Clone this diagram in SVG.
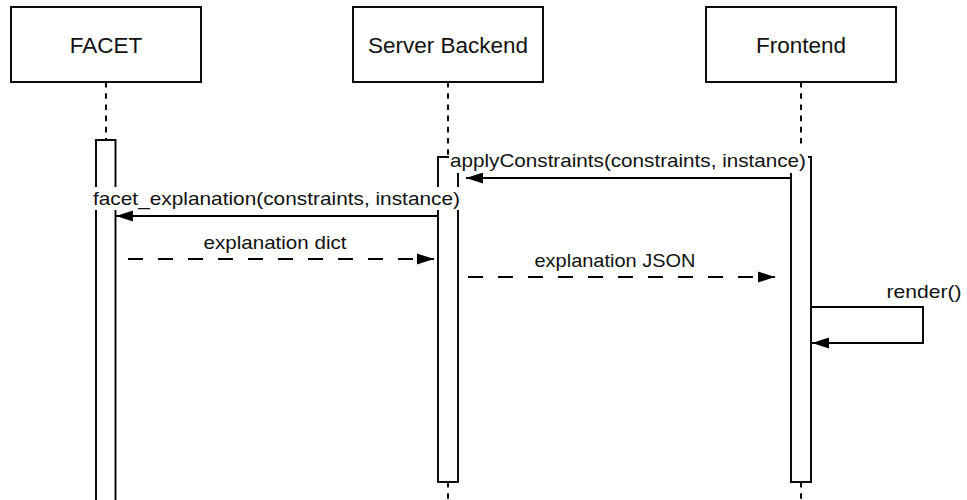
<svg xmlns="http://www.w3.org/2000/svg" width="967" height="500" viewBox="0 0 967 500">
<style>
.box{fill:#fff;stroke:#000;stroke-width:1.9}
.bar{fill:#fff;stroke:#000;stroke-width:1.9}
.life{stroke:#000;stroke-width:1.9;stroke-dasharray:5.6 5.6;fill:none}
.msg{stroke:#000;stroke-width:1.9;fill:none}
.ret{stroke:#000;stroke-width:1.9;fill:none;stroke-dasharray:15 15}
.hd{font-family:"Liberation Sans",Arial,sans-serif;font-size:22.5px;fill:#111;text-anchor:middle}
.lb{font-family:"Liberation Sans",Arial,sans-serif;font-size:19px;fill:#111;text-anchor:middle}
.bg{fill:#fff}
</style>
<defs>
<marker id="ah" markerUnits="userSpaceOnUse" markerWidth="18" markerHeight="14" viewBox="0 0 18 14" refX="17" refY="7" orient="auto">
<path d="M0,1.5 L17,7 L0,12.5 Z" fill="#000"/>
</marker>
</defs>
<g id="facet">
<line class="life" x1="106" y1="82" x2="106" y2="140"/>
<rect class="box" x="11" y="7" width="190" height="75"/>
<text class="hd" x="106" y="53">FACET</text>
<rect class="bar" x="96" y="140" width="19.5" height="380"/>
</g>
<g id="server">
<line class="life" x1="448" y1="82" x2="448" y2="157"/>
<line class="life" x1="448" y1="482" x2="448" y2="500"/>
<rect class="box" x="353" y="7" width="190" height="75"/>
<text class="hd" x="448" y="53">Server Backend</text>
<rect class="bar" x="438" y="157" width="20" height="325"/>
</g>
<g id="frontend">
<line class="life" x1="801" y1="82" x2="801" y2="157"/>
<line class="life" x1="801" y1="482" x2="801" y2="500"/>
<rect class="box" x="706" y="7" width="190" height="75"/>
<text class="hd" x="801" y="53">Frontend</text>
<rect class="bar" x="791" y="157" width="20" height="325"/>
</g>
<g id="connectors">
<line class="msg" x1="791" y1="178" x2="466" y2="178" marker-end="url(#ah)"/>
<rect class="bg" x="449" y="149" width="359" height="24"/>
<text class="lb" x="628" y="166.5" textLength="356" lengthAdjust="spacingAndGlyphs">applyConstraints(constraints, instance)</text>
<line class="msg" x1="438" y1="216" x2="116" y2="216" marker-end="url(#ah)"/>
<rect class="bg" x="91" y="187" width="370" height="23"/>
<text class="lb" x="276.5" y="204.5" textLength="367" lengthAdjust="spacingAndGlyphs">facet_explanation(constraints, instance)</text>
<line class="ret" x1="128" y1="259" x2="434" y2="259" marker-end="url(#ah)"/>
<text class="lb" x="275" y="249" textLength="143" lengthAdjust="spacingAndGlyphs">explanation dict</text>
<line class="ret" x1="468" y1="277" x2="775" y2="277" marker-end="url(#ah)"/>
<text class="lb" x="615" y="267" textLength="161" lengthAdjust="spacingAndGlyphs">explanation JSON</text>
<polyline class="msg" points="811,307 923,307 923,343 812,343" marker-end="url(#ah)"/>
<text class="lb" x="924" y="298" textLength="75" lengthAdjust="spacingAndGlyphs">render()</text>
</g>
</svg>
